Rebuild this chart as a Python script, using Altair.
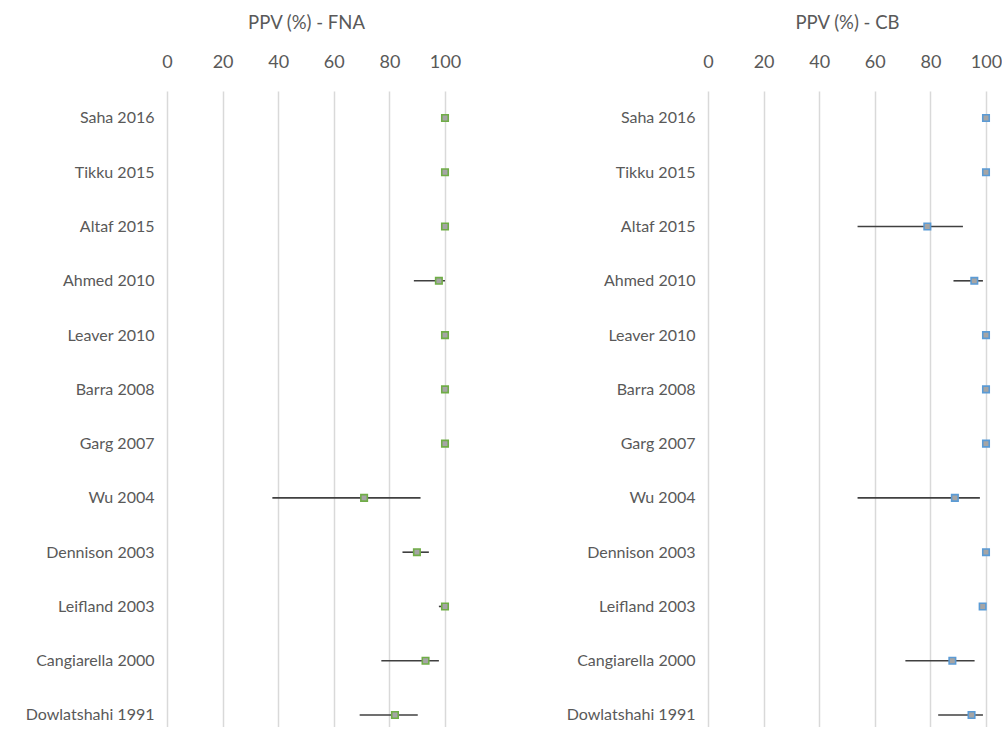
import altair as alt
import pandas as pd

# Studies, top to bottom
studies = [
    "Saha 2016", "Tikku 2015", "Altaf 2015", "Ahmed 2010", "Leaver 2010",
    "Barra 2008", "Garg 2007", "Wu 2004", "Dennison 2003", "Leifland 2003",
    "Cangiarella 2000", "Dowlatshahi 1991",
]

# Positive predictive value (%) with 95% CI - fine-needle aspiration
fna_ppv = [100, 100, 100, 97.8, 100, 100, 100, 70.9, 89.9, 100, 93.0, 82.0]
fna_lo = [100, 100, 100, 88.8, 100, 100, 100, 37.9, 84.7, 97.8, 77.1, 69.3]
fna_hi = [100, 100, 100, 100, 100, 100, 100, 91.2, 94.2, 100, 97.8, 90.2]

# Positive predictive value (%) with 95% CI - core biopsy
cb_ppv = [100, 100, 78.9, 95.8, 100, 100, 100, 88.8, 100, 98.8, 87.9, 94.8]
cb_lo = [100, 100, 53.8, 88.3, 100, 100, 100, 53.8, 100, 98.8, 71.0, 82.8]
cb_hi = [100, 100, 91.7, 98.9, 100, 100, 100, 97.8, 100, 98.8, 95.9, 98.9]

x_ticks = [0, 20, 40, 60, 80, 100]

FONT = "Lato"
TEXT = "#595959"


def panel(title, ppv, lo, hi, edge_color):
    df = pd.DataFrame({"study": studies, "ppv": ppv, "lo": lo, "hi": hi})
    # rows spaced evenly, with a shorter gap under the last row
    y = alt.Y(
        "study:N",
        sort=studies,
        scale=alt.Scale(type="point", padding=0.3593, align=0.6923),
        axis=alt.Axis(
            title=None, domain=False, ticks=False, grid=False,
            labelFontSize=16, labelColor=TEXT, labelFont=FONT, labelPadding=13,
        ),
    )
    x_scale = alt.Scale(domain=[0, 100], nice=False, zero=True)
    x_axis = alt.Axis(
        title=title, orient="top", values=x_ticks, domain=False, ticks=False,
        grid=True, gridColor="#d9d9d9", gridWidth=1.5,
        labelFlush=False, labelOverlap=False,
        labelFontSize=18, labelColor=TEXT, labelFont=FONT, labelPadding=20,
        titleFontSize=18.5, titleColor=TEXT, titleFont=FONT,
        titleFontWeight="normal", titlePadding=21,
    )
    bars = alt.Chart(df).mark_rule(color="#404040", strokeWidth=1.6).encode(
        x=alt.X("lo:Q", scale=x_scale, axis=x_axis),
        x2="hi:Q",
        y=y,
    )
    points = alt.Chart(df).mark_point(
        shape="square", filled=True, fill="#a5a5a5", stroke=edge_color,
        strokeWidth=1.6, size=42, opacity=1,
    ).encode(
        x=alt.X("ppv:Q", scale=x_scale, axis=x_axis),
        y=y,
    )
    return alt.layer(bars, points).properties(width=278, height=636)


left = panel("PPV (%) - FNA", fna_ppv, fna_lo, fna_hi, "#70ad47")
right = panel("PPV (%) - CB", cb_ppv, cb_lo, cb_hi, "#5b9bd5")

chart = alt.hconcat(left, right, spacing=105).properties(
    padding={"left": 25, "top": 13, "right": 0, "bottom": 0}
).configure(background="white").configure_view(stroke=None)

chart.save("out.html", embed_options={"renderer": "svg", "actions": False})
